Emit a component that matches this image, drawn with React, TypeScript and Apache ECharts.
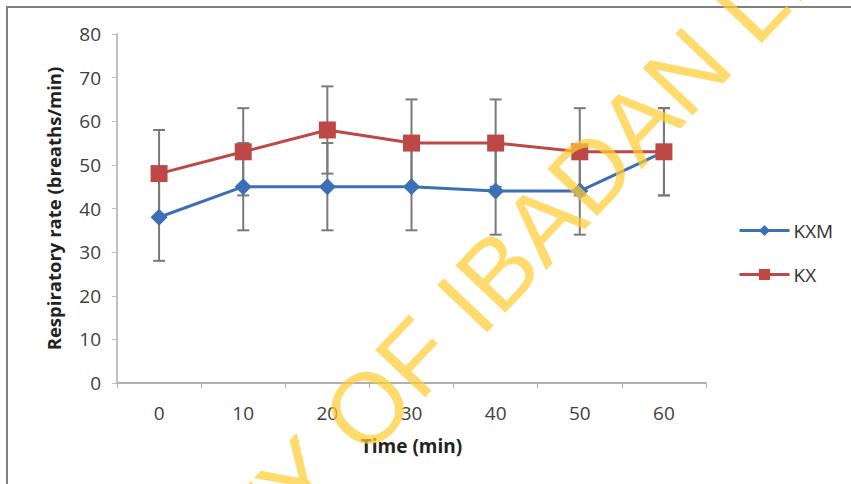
import React, { useEffect, useRef } from "react";
import * as echarts from "echarts";

const categories = ["0", "10", "20", "30", "40", "50", "60"];
const kxmValues = [38, 45, 45, 45, 44, 44, 53];
const kxValues = [48, 53, 58, 55, 55, 53, 53];
const kxmErr = [10, 10, 10, 10, 10, 10, 10];
const kxErr = [10, 10, 10, 10, 10, 10, 10];
const yTicks = { min: 0, max: 80, interval: 10 };

const FONT = "'Open Sans', 'Noto Sans', sans-serif";
const BLUE = "#3d6fb6";
const RED = "#bd4845";
const ERR = "#7a7a7a";

function errData(vals: number[], errs: number[]) {
  return vals.map((v, i) => [i, v - errs[i], v + errs[i]]);
}

function errRender(params: any, api: any) {
  const x = api.value(0);
  const lo = api.coord([x, api.value(1)]);
  const hi = api.coord([x, api.value(2)]);
  const hw = 6;
  const style = { stroke: ERR, lineWidth: 2 };
  return {
    type: "group",
    children: [
      { type: "line", shape: { x1: lo[0], y1: lo[1], x2: hi[0], y2: hi[1] }, style },
      { type: "line", shape: { x1: lo[0] - hw, y1: lo[1], x2: lo[0] + hw, y2: lo[1] }, style },
      { type: "line", shape: { x1: hi[0] - hw, y1: hi[1], x2: hi[0] + hw, y2: hi[1] }, style },
    ],
  };
}

export default function App() {
  const ref = useRef<HTMLDivElement>(null);
  useEffect(() => {
    if (!ref.current) return;
    const chart = echarts.init(ref.current, null, { renderer: "svg" });
    const theta = (46.5 * Math.PI) / 180;
    const wmX = 341;
    const wmY = 436;
    const wmStyle = {
      fill: "rgba(255, 204, 51, 0.72)",
      font: "100px 'Liberation Sans', Arial, sans-serif",
      verticalAlign: "middle",
      textVerticalAlign: "middle",
    };
    chart.setOption({
      animation: false,
      backgroundColor: "#ffffff",
      grid: { left: 117, right: 145, top: 34, bottom: 101 },
      legend: {
        data: ["KXM", "KX"],
        orient: "vertical",
        left: 738,
        top: 221,
        padding: 0,
        itemWidth: 50,
        itemHeight: 14,
        itemGap: 25,
        lineStyle: { width: 3 },
        textStyle: { fontFamily: FONT, fontSize: 19, color: "#333", padding: [0, 0, 0, -1] },
      },
      xAxis: {
        type: "category",
        data: categories,
        name: "Time (min)",
        nameLocation: "middle",
        nameGap: 53,
        nameTextStyle: { fontFamily: FONT, fontSize: 19, fontWeight: "bold", color: "#222" },
        axisLine: { lineStyle: { color: "#b0b0b0", width: 2 } },
        axisTick: { show: true, length: 5, lineStyle: { color: "#b0b0b0" } },
        axisLabel: { fontFamily: FONT, fontSize: 19, color: "#404040", margin: 20 },
      },
      yAxis: {
        type: "value",
        min: yTicks.min,
        max: yTicks.max,
        interval: yTicks.interval,
        name: "Respiratory rate (breaths/min)",
        nameLocation: "middle",
        nameGap: 54,
        nameTextStyle: { fontFamily: FONT, fontSize: 18.5, fontWeight: "bold", color: "#222" },
        axisLine: { show: true, lineStyle: { color: "#c0c0c0", width: 2 } },
        axisTick: { show: true, length: 5, lineStyle: { color: "#c0c0c0" } },
        axisLabel: { fontFamily: FONT, fontSize: 19, color: "#404040", margin: 16 },
        splitLine: { show: false },
      },
      series: [
        {
          name: "KXM err",
          type: "custom",
          data: errData(kxmValues, kxmErr),
          encode: { x: 0, y: [1, 2] },
          renderItem: errRender,
          z: 1,
          silent: true,
        },
        {
          name: "KX err",
          type: "custom",
          data: errData(kxValues, kxErr),
          encode: { x: 0, y: [1, 2] },
          renderItem: errRender,
          z: 1,
          silent: true,
        },
        {
          name: "KXM",
          type: "line",
          data: kxmValues,
          symbol: "diamond",
          symbolSize: 17,
          itemStyle: { color: BLUE },
          lineStyle: { color: BLUE, width: 3 },
          z: 3,
        },
        {
          name: "KX",
          type: "line",
          data: kxValues,
          symbol: "rect",
          symbolSize: 17,
          itemStyle: { color: RED },
          lineStyle: { color: RED, width: 3 },
          z: 4,
        },
      ],
      graphic: [
        {
          type: "rect",
          z: 50,
          shape: { x: 7, y: 7, width: 900, height: 520 },
          style: { fill: "none", stroke: "#808080", lineWidth: 2 },
          silent: true,
        },
        {
          type: "text",
          z: 100,
          x: wmX,
          y: wmY,
          rotation: theta,
          silent: true,
          style: { ...wmStyle, text: "OF IBADAN LIBRARY", align: "left", textAlign: "left" },
        },
        {
          type: "text",
          z: 100,
          x: wmX,
          y: wmY,
          rotation: theta,
          silent: true,
          style: { ...wmStyle, text: "UNIVERSITY ", align: "right", textAlign: "right" },
        },
      ],
    });
    return () => chart.dispose();
  }, []);
  return (
    <div
      ref={ref}
      style={{ position: "fixed", left: 0, top: 0, width: 851, height: 484 }}
    />
  );
}
